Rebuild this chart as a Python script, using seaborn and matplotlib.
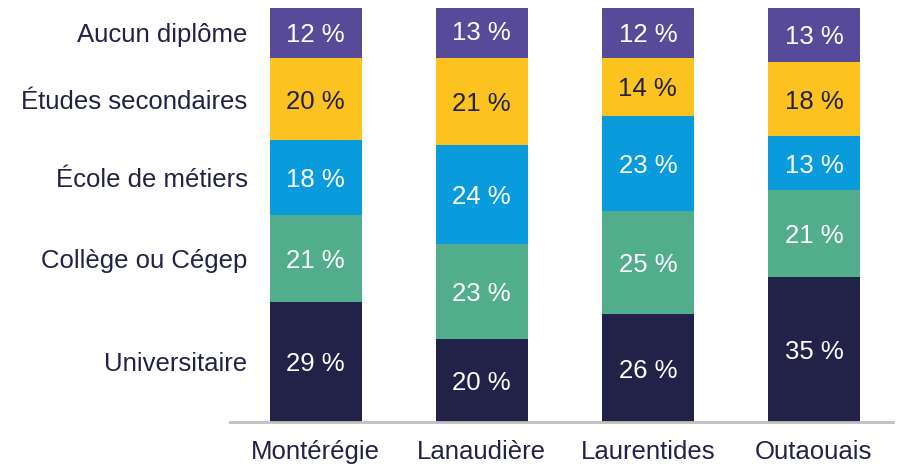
import numpy as np
import matplotlib.pyplot as plt
import seaborn as sns

# Data (percentages, bottom to top)
regions = ['Montérégie', 'Lanaudière', 'Laurentides', 'Outaouais']
levels = ['Universitaire', 'Collège ou Cégep', 'École de métiers',
          'Études secondaires', 'Aucun diplôme']
universitaire = [29, 20, 26, 35]
college = [21, 23, 25, 21]
ecole_metiers = [18, 24, 23, 13]
secondaires = [20, 21, 14, 18]
aucun = [12, 13, 12, 13]

series = [universitaire, college, ecole_metiers, secondaires, aucun]
colors = ['#222248', '#52AD8C', '#0A9BDC', '#FCC21F', '#574A98']
text_colors = ['white', 'white', 'white', '#222248', 'white']
navy = '#222248'

sns.set_style('white')
plt.rcParams['font.family'] = ['Liberation Sans', 'DejaVu Sans']

fig = plt.figure(figsize=(8.97, 4.66), dpi=100)
ax = fig.add_axes([0.256, 0.0944, 0.7395, 0.8886])

bottom = np.zeros(len(regions))
for vals, col, tcol in zip(series, colors, text_colors):
    vals = np.array(vals, dtype=float)
    sns.barplot(x=regions, y=vals, bottom=bottom, color=col, width=0.554,
                saturation=1, ax=ax, linewidth=0)
    for i, v in enumerate(vals):
        ax.text(i, bottom[i] + v / 2, f'{int(v)} %', ha='center',
                va='center_baseline', color=tcol, fontsize=18.5)
    bottom += vals

# Category labels on the left, aligned with the first bar's segments
cum = np.cumsum([s[0] for s in series])
starts = cum - np.array([s[0] for s in series])
for lab, s, e in zip(levels, starts, cum):
    ax.text(-0.41, (s + e) / 2, lab, ha='right', va='center_baseline',
            color=navy, fontsize=18.5, clip_on=False)

ax.set_xlim(-0.518, 3.476)
ax.set_ylim(0, 100)
ax.set_yticks([])
ax.set_ylabel('')
for sp in ['top', 'right', 'left']:
    ax.spines[sp].set_visible(False)
ax.spines['bottom'].set_color('#BFBFBF')
ax.spines['bottom'].set_linewidth(2)
ax.tick_params(axis='x', length=0, pad=13, labelsize=18.5, labelcolor=navy)

fig.savefig('out.png', dpi=100)
